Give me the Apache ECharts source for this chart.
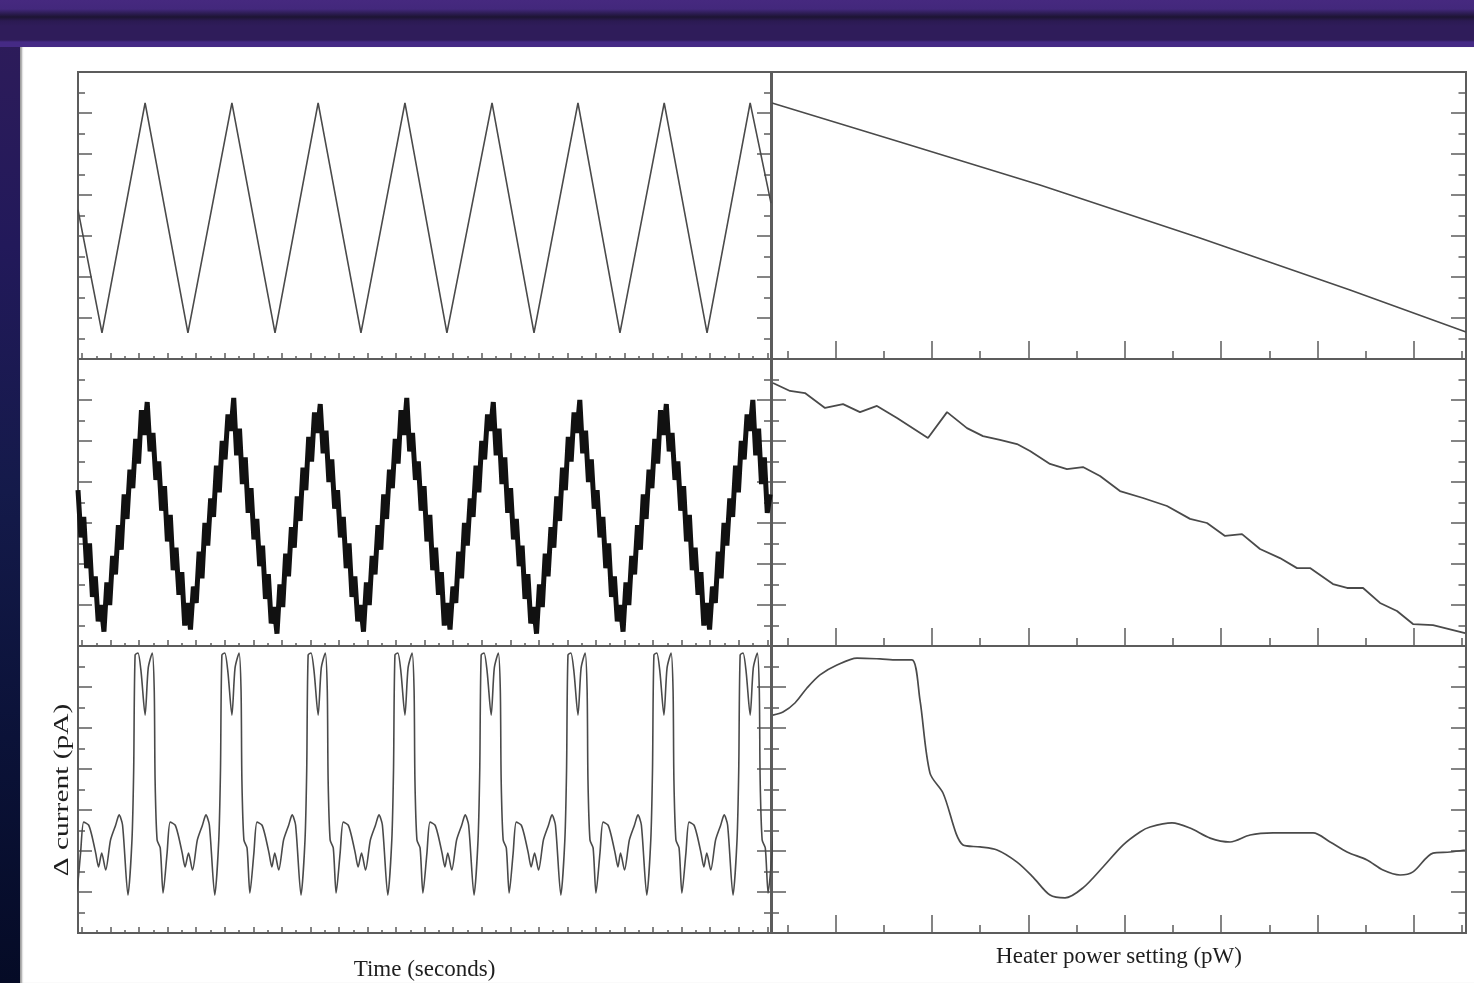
<!DOCTYPE html>
<html>
<head>
<meta charset="utf-8">
<script src="https://cdn.jsdelivr.net/npm/echarts@6/dist/echarts.min.js"></script>
<style>
  html, body { margin: 0; padding: 0; width: 1474px; height: 983px; overflow: hidden; }
  body { position: relative; background: linear-gradient(to bottom, #2f1c5a 0%, #22195a 25%, #141a4a 50%, #0b1238 75%, #050b26 100%); }
  #band { position: absolute; left: 0; top: 0; width: 1474px; height: 47px;
          background: linear-gradient(to bottom, #46297f 0px, #43287c 9px, #2a1b4e 14px, #1d1433 17px, #2b1a52 21px, #2f1c5a 26px, #2f1c5a 40px, #452a85 42px, #452a85 47px); }
  #sheet { position: absolute; left: 20px; top: 47px; width: 1454px; height: 936px; background: #fff;
           box-shadow: inset 3px 0 2px -1px #9a9a9a; }
  #chart { position: absolute; left: 0; top: 0; width: 1474px; height: 983px; }
</style>
</head>
<body>
<div id="band"></div>
<div id="sheet"></div>
<div id="chart"></div>
<script>
// ---- axis extents and tick positions ----
const timeRange = [-0.14, 24.13];          // seconds
const powerRange = [-1.6, 70.4];           // pW
const currentRange = [0, 14];              // arbitrary current units
const timeTicks = [0, 1, 2, 3, 4, 5, 6, 7, 8, 9, 10, 11, 12, 13, 14, 15, 16, 17, 18, 19, 20, 21, 22, 23, 24];
const timeHalfTicks = [0.5, 1.5, 2.5, 3.5, 4.5, 5.5, 6.5, 7.5, 8.5, 9.5, 10.5, 11.5, 12.5, 13.5, 14.5, 15.5, 16.5, 17.5, 18.5, 19.5, 20.5, 21.5, 22.5, 23.5];
const powerMajorTicks = [5, 15, 25, 35, 45, 55, 65];
const powerMinorTicks = [0, 10, 20, 30, 40, 50, 60, 70];

// ---- top left: heater drive ramp (turning points) ----
const rampTimes = [-0.14, 0.70, 2.21, 3.71, 5.25, 6.76, 8.27, 9.77, 11.31, 12.78, 14.36, 15.83, 17.37, 18.84, 20.39, 21.89, 23.40, 24.13];
const rampValues = [7.27, 1.27, 12.49, 1.27, 12.49, 1.27, 12.49, 1.27, 12.49, 1.27, 12.49, 1.27, 12.49, 1.27, 12.49, 1.27, 12.49, 7.6];

// ---- top right: drive vs heater power ----
const topPower = [-1.6, 11.68, 26.2, 42.8, 58.37, 70.4];
const topResponse = [12.49, 10.59, 8.49, 5.90, 3.37, 1.32];

// ---- middle left: raw detector current, sampled every 0.101 s ----
const rawStart = -0.14;
const rawStep = 0.101;
const rawCurrent = [
  7.6, 5.3, 6.3, 3.8, 5.0, 2.4, 3.4, 1.2, 2.0, 0.7, 3.1, 2.0, 4.4, 3.5, 5.9, 4.7, 7.4, 6.2, 8.6, 7.7, 10.1, 8.9, 11.5, 10.3, 11.9, 9.5, 10.4, 8.1, 9.0, 6.6,
  7.8, 5.1, 6.4, 3.7, 4.8, 2.5, 3.6, 1.0, 2.1, 0.8, 2.9, 2.1, 4.6, 3.3, 6.0, 4.9, 7.2, 6.3, 8.8, 7.5, 10.0, 9.1, 11.3, 10.5, 12.1, 9.3, 10.6, 7.9, 9.2, 6.5,
  7.7, 5.2, 6.2, 3.9, 4.9, 2.3, 3.5, 1.1, 1.9, 0.6, 3.0, 1.9, 4.5, 3.4, 5.8, 4.8, 7.3, 6.1, 8.7, 7.6, 10.2, 9.0, 11.4, 10.4, 11.8, 9.4, 10.5, 8.0, 9.1, 6.7,
  7.6, 5.3, 6.3, 3.8, 5.0, 2.4, 3.4, 1.2, 2.0, 0.7, 3.1, 2.0, 4.4, 3.5, 5.9, 4.7, 7.4, 6.2, 8.6, 7.7, 10.1, 8.9, 11.5, 10.3, 12.1, 9.5, 10.4, 8.1, 9.0, 6.6,
  7.8, 5.1, 6.4, 3.7, 4.8, 2.5, 3.6, 1.0, 2.1, 0.8, 2.9, 2.1, 4.6, 3.3, 6.0, 4.9, 7.2, 6.3, 8.8, 7.5, 10.0, 9.1, 11.3, 10.5, 11.9, 9.3, 10.6, 7.9, 9.2, 6.5,
  7.7, 5.2, 6.2, 3.9, 4.9, 2.3, 3.5, 1.1, 1.9, 0.6, 3.0, 1.9, 4.5, 3.4, 5.8, 4.8, 7.3, 6.1, 8.7, 7.6, 10.2, 9.0, 11.4, 10.4, 12.0, 9.4, 10.5, 8.0, 9.1, 6.7,
  7.6, 5.3, 6.3, 3.8, 5.0, 2.4, 3.4, 1.2, 2.0, 0.7, 3.1, 2.0, 4.4, 3.5, 5.9, 4.7, 7.4, 6.2, 8.6, 7.7, 10.1, 8.9, 11.5, 10.3, 11.8, 9.5, 10.4, 8.1, 9.0, 6.6,
  7.8, 5.1, 6.4, 3.7, 4.8, 2.5, 3.6, 1.0, 2.1, 0.8, 2.9, 2.1, 4.6, 3.3, 6.0, 4.9, 7.2, 6.3, 8.8, 7.5, 10.0, 9.1, 11.3, 10.5, 12.0, 9.3, 10.6, 7.9, 9.2, 6.5,
  7.4
];

// ---- middle right: averaged current vs heater power ----
const midPower = [-1.50, 0.27, 1.82, 3.90, 5.77, 7.53, 9.29, 11.37, 14.58, 16.56, 18.63, 20.29, 22.05, 23.82, 25.17, 27.24, 29.00, 30.66, 32.43, 34.50,
  36.89, 39.38, 41.77, 43.53, 45.40, 47.16, 49.03, 51.10, 52.87, 54.22, 56.60, 58.06, 59.72, 61.48, 63.24, 64.90, 66.98, 70.30];
const midResponse = [12.83, 12.44, 12.34, 11.61, 11.80, 11.41, 11.71, 11.12, 10.15, 11.41, 10.63, 10.24, 10.05, 9.85, 9.51, 8.88, 8.63, 8.73, 8.29, 7.56,
  7.22, 6.83, 6.20, 6.00, 5.37, 5.46, 4.73, 4.29, 3.80, 3.80, 3.02, 2.83, 2.83, 2.10, 1.71, 1.07, 1.02, 0.63];

// ---- bottom left: demodulated current, one pulse shape and the pulse centres ----
const pulseCentres = [-0.82, 2.21, 5.25, 8.27, 11.31, 14.33, 17.37, 20.38, 23.40];
const pulseOffsets = [-1.52, -1.38, -1.21, -1.03, -0.91, -0.79, -0.60, -0.46, -0.40, -0.35, -0.25, -0.14, 0, 0.11, 0.25, 0.32, 0.35, 0.42, 0.53, 0.63, 0.77, 0.88, 1.05, 1.16, 1.30, 1.40];
const pulseShape = [3.90, 3.07, 4.54, 5.27, 5.76, 5.27, 1.85, 4.54, 7.95, 13.56, 13.66, 12.73, 10.63, 12.93, 13.66, 11.85, 7.46, 4.54, 4.15, 1.95, 3.90, 5.41, 5.27, 4.78, 3.90, 3.22];

// ---- bottom right: demodulated signal vs heater power ----
const lowPower = [-1.50, -0.46, 0.78, 2.03, 3.38, 5.14, 7.22, 9.60, 11.37, 12.92, 13.75, 14.79, 16.14, 18.22, 19.98, 21.75, 23.82, 25.48, 27.24, 28.80,
  30.66, 32.74, 34.81, 36.58, 37.62, 39.90, 41.77, 43.85, 45.92, 48.00, 50.38, 54.53, 56.30, 58.06, 60.13, 61.79, 63.56, 64.90, 66.98, 68.75, 70.30];
const lowResponse = [10.63, 10.78, 11.22, 11.95, 12.59, 13.07, 13.41, 13.37, 13.32, 13.32, 11.37, 7.80, 6.83, 4.29, 4.20, 4.05, 3.46, 2.73, 1.85, 1.71,
  2.20, 3.22, 4.29, 4.93, 5.17, 5.37, 5.12, 4.63, 4.44, 4.78, 4.88, 4.88, 4.44, 3.95, 3.56, 3.07, 2.83, 2.98, 3.90, 3.95, 4.05];

// ---- build series data ----
const zip = (xs, ys) => xs.map((x, i) => [x, ys[i]]);
const rawData = rawCurrent.map((v, i) => [rawStart + i * rawStep, v]);
const pulseData = [];
pulseCentres.forEach(c => pulseOffsets.forEach((o, i) => pulseData.push([c + o, pulseShape[i]])));

// ---- layout ----
const frameColor = '#5c5c5c';
const traceColor = '#4a4a4a';
const cols = [{ left: 78, width: 693 }, { left: 772, width: 694 }];
const rows = [{ top: 72, height: 287 }, { top: 359, height: 287 }, { top: 646, height: 287 }];

const grids = [], xAxes = [], yAxes = [];
const tickStyle = { color: frameColor, width: 1.5 };

function addPanel(row, col, opts) {
  const g = grids.length;
  grids.push({ left: cols[col].left, width: cols[col].width, top: rows[row].top, height: rows[row].height,
    show: true, borderColor: frameColor, borderWidth: 2, backgroundColor: 'transparent',
    containLabel: false, outerBoundsMode: 'none' });
  const isTime = col === 0;
  const range = isTime ? timeRange : powerRange;
  const main = {
    type: 'value', gridIndex: g, position: 'bottom', min: range[0], max: range[1],
    axisLine: { show: false, onZero: false }, splitLine: { show: false }, axisLabel: { show: false },
    axisTick: { show: true, inside: true, length: isTime ? 6 : 18, customValues: isTime ? timeTicks : powerMajorTicks, lineStyle: tickStyle }
  };
  if (opts.name) {
    main.name = opts.name;
    main.nameLocation = 'middle';
    main.nameGap = opts.nameGap;
    main.nameTextStyle = { fontFamily: '"Liberation Serif", serif', fontSize: 23, color: '#1e1e1e', verticalAlign: 'middle' };
  }
  const minor = {
    type: 'value', gridIndex: g, position: 'bottom', min: range[0], max: range[1],
    axisLine: { show: false, onZero: false }, splitLine: { show: false }, axisLabel: { show: false },
    axisTick: { show: true, inside: true, length: isTime ? 3 : 8, customValues: isTime ? timeHalfTicks : powerMinorTicks, lineStyle: tickStyle }
  };
  xAxes.push(main, minor);
  const yAx = (pos, show, len) => ({
    type: 'value', gridIndex: g, position: pos, min: currentRange[0], max: currentRange[1], interval: 2,
    axisLine: { show: false, onZero: false }, splitLine: { show: false }, axisLabel: { show: false },
    axisTick: { show: show, inside: true, length: len, lineStyle: tickStyle },
    minorTick: { show: show, splitNumber: 2, length: len / 2, lineStyle: tickStyle },
    minorSplitLine: { show: false }
  });
  yAxes.push(yAx('left', opts.leftTicks, 14), yAx('right', true, isTime ? 14 : 15));
  return g;
}

const gTL = addPanel(0, 0, { leftTicks: true });
const gTR = addPanel(0, 1, { leftTicks: false });
const gML = addPanel(1, 0, { leftTicks: true });
const gMR = addPanel(1, 1, { leftTicks: true });
const gBL = addPanel(2, 0, { leftTicks: true, name: 'Time (seconds)', nameGap: 37 });
const gBR = addPanel(2, 1, { leftTicks: true, name: 'Heater power setting (pW)', nameGap: 24 });

function trace(g, data, style, smooth) {
  return { type: 'line', xAxisIndex: 2 * g, yAxisIndex: 2 * g, data: data, showSymbol: false, symbol: 'none',
    smooth: smooth || false, clip: true, silent: true, animation: false,
    lineStyle: Object.assign({ color: traceColor, width: 1.6 }, style) };
}

const chart = echarts.init(document.getElementById('chart'), null, { renderer: 'canvas' });
chart.setOption({
  backgroundColor: 'transparent',
  animation: false,
  grid: grids,
  xAxis: xAxes,
  yAxis: yAxes,
  graphic: [{
    type: 'text', x: 62, y: 790, rotation: Math.PI / 2, scaleX: 1.4, scaleY: 1,
    style: { text: 'Δ current (pA)', font: '21px "Liberation Serif", serif', fill: '#1e1e1e', align: 'center', verticalAlign: 'middle' }
  }],
  series: [
    trace(gTL, zip(rampTimes, rampValues), { width: 1.6 }),
    trace(gTR, zip(topPower, topResponse), { width: 1.6 }),
    trace(gML, rawData, { color: '#111111', width: 5, join: 'miter', miterLimit: 2 }),
    trace(gMR, zip(midPower, midResponse), { width: 1.8 }),
    trace(gBL, pulseData, { width: 1.6 }, 0.25),
    trace(gBR, zip(lowPower, lowResponse), { width: 1.7 }, 0.3)
  ]
});
</script>
</body>
</html>
